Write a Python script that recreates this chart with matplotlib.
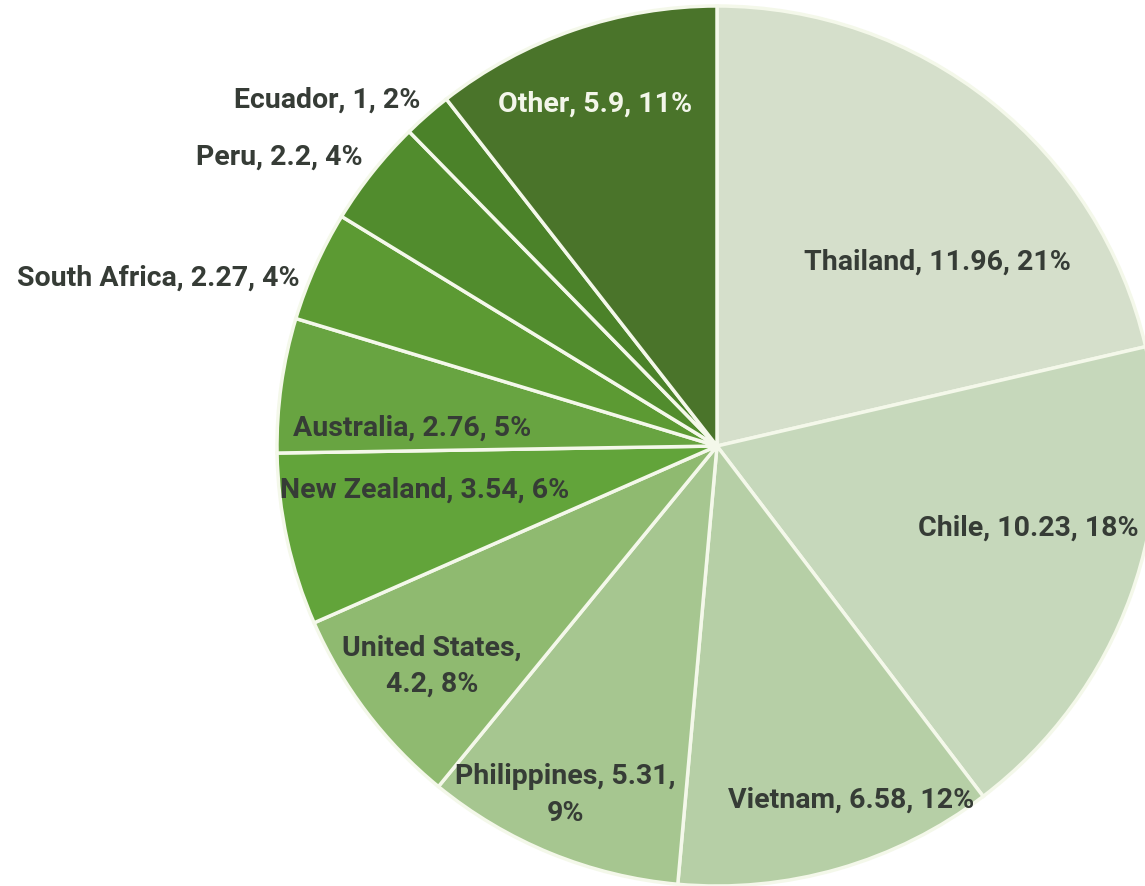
import matplotlib.pyplot as plt

countries = ["Thailand", "Chile", "Vietnam", "Philippines", "United States",
             "New Zealand", "Australia", "South Africa", "Peru", "Ecuador", "Other"]
values = [11.96, 10.23, 6.58, 5.31, 4.2, 3.54, 2.76, 2.27, 2.2, 1, 5.9]
percents = [21, 18, 12, 9, 8, 6, 5, 4, 4, 2, 11]

colors = ["#d5dfcb", "#c6d8bb", "#b6cfa6", "#a6c690", "#8fba70", "#62a43a",
          "#68a441", "#5c9a33", "#518c2d", "#4b8229", "#4a742a"]

# label layout: (x, y) in pie radius units, horizontal alignment
label_pos = [(0.502, 0.420, "center"), (0.707, -0.184, "center"),
             (0.305, -0.802, "center"), (-0.345, -0.791, "center"),
             (-0.648, -0.498, "center"), (-0.664, -0.098, "center"),
             (-0.693, 0.043, "center"), (-0.948, 0.384, "right"),
             (-0.805, 0.659, "right"), (-0.675, 0.789, "right"),
             (-0.277, 0.780, "center")]

fig = plt.figure(figsize=(11.45, 8.87), dpi=100)
ax = fig.add_axes([(717 - 440) / 1145, 0, 880 / 1145, 880 / 887])
ax.pie(values, colors=colors, startangle=90, counterclock=False, radius=1,
       wedgeprops=dict(edgecolor="#f4f8ea", linewidth=2.5))
ax.set_xlim(-1, 1)
ax.set_ylim(-1, 1)
ax.set_aspect("equal")
ax.axis("off")

font = ["Liberation Sans Narrow", "Roboto", "DejaVu Sans"]
for name, v, p, (x, y, ha) in zip(countries, values, percents, label_pos):
    if name == "Philippines":
        txt = f"{name}, {v:g},\n{p}%"
    elif name == "United States":
        txt = f"{name},\n{v:g}, {p}%"
    else:
        txt = f"{name}, {v:g}, {p}%"
    col = "#f3f6ea" if name == "Other" else "#363c36"
    ax.text(x, y, txt, ha=ha, va="center", fontsize=20.5, fontweight="bold",
            family=font, color=col, linespacing=1.45, multialignment="center")

fig.savefig("out.png", dpi=100)
